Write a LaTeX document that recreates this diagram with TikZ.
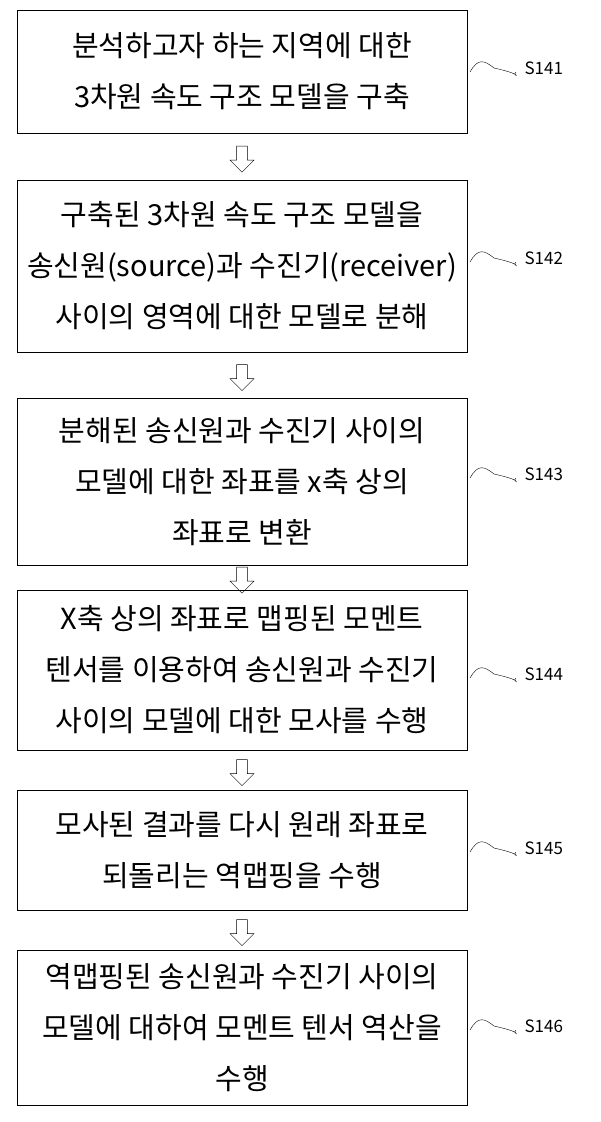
\documentclass[tikz,border=0pt]{standalone}
\usepackage{fontspec}
\setmainfont{Noto Sans CJK KR}
\usetikzlibrary{positioning,shapes.arrows}
\tikzset{
  stepbox/.style={draw, thick, minimum width=450pt, align=center,
    font=\fontsize{29}{51}\selectfont, inner sep=0pt},
  flowarrow/.style={draw, single arrow, shape border rotate=270, minimum height=26pt,
    minimum width=24pt, single arrow head extend=4pt, inner sep=3pt},
  steplabel/.style={font=\fontsize{17}{19}\selectfont, anchor=west}
}
\begin{document}
\begin{tikzpicture}[x=1pt,y=-1pt]
  \useasboundingbox[fill=white] (0,0) rectangle (600,1122);

  % boxes
  \node[stepbox, minimum height=123pt] (s141) at (242,71.5) {분석하고자 하는 지역에 대한\\3차원 속도 구조 모델을 구축};
  \node[stepbox, minimum height=172pt] (s142) at (242,266) {구축된 3차원 속도 구조 모델을\\송신원(source)과 수진기(receiver)\\사이의 영역에 대한 모델로 분해};
  \node[stepbox, minimum height=167pt] (s143) at (242,481.5) {분해된 송신원과 수진기 사이의\\모델에 대한 좌표를 x축 상의\\좌표로 변환};
  \node[stepbox, minimum height=160pt] (s144) at (242,670) {X축 상의 좌표로 맵핑된 모멘트\\텐서를 이용하여 송신원과 수진기\\사이의 모델에 대한 모사를 수행};
  \node[stepbox, minimum height=120pt] (s145) at (242,850) {모사된 결과를 다시 원래 좌표로\\되돌리는 역맵핑을 수행};
  \node[stepbox, minimum height=155pt] (s146) at (242,1027.5) {역맵핑된 송신원과 수진기 사이의\\모델에 대하여 모멘트 텐서 역산을\\수행};

  % arrows between steps
  \foreach \a/\b in {s141/s142, s142/s143, s143/s144, s144/s145, s145/s146}
    \path (\a.south) -- (\b.north) node[flowarrow, midway] {};

  % step labels with squiggles
  \foreach \n/\yy in {141/72, 142/262, 143/478, 144/678, 145/852, 146/1030}{
    \coordinate (w\n) at (470,\yy);
    \draw (w\n) .. controls +(8,-14) and +(-10,-8) .. +(24,-4) .. controls +(36,8) and +(-6,6) .. +(46,0);
    \node[steplabel] (l\n) at (521,\yy-4) {S\n};
  }
\end{tikzpicture}
\end{document}
